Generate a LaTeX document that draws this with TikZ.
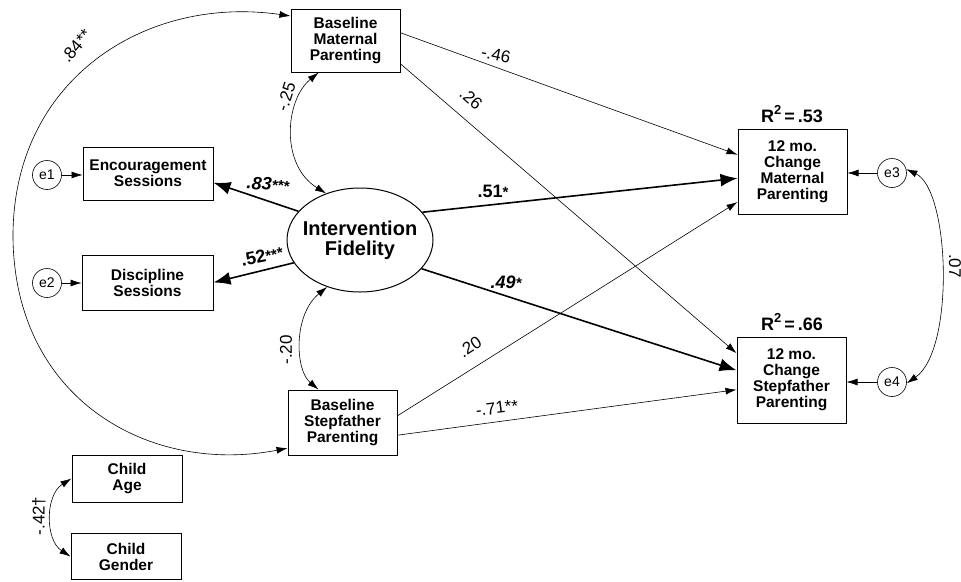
\documentclass[tikz,border=0pt]{standalone}
\usepackage{fontspec}
\setmainfont{Liberation Sans}
\usetikzlibrary{arrows.meta,shapes.geometric}
\begin{document}
\begin{tikzpicture}[x=1pt,y=-1pt,
 box/.style={draw,line width=1pt,font=\fontsize{15.5}{16}\selectfont\bfseries,align=center,inner sep=0pt},
 err/.style={draw,circle,line width=0.6pt,minimum size=29pt,inner sep=0pt,font=\fontsize{14}{14}\selectfont},
 thinar/.style={line width=0.6pt,-{Latex[length=11pt,width=7pt]}},
 thickar/.style={line width=1.6pt,-{Latex[length=17pt,width=13pt]}},
 dbl/.style={line width=0.6pt,{Latex[length=11pt,width=7pt]}-{Latex[length=11pt,width=7pt]}},
 lab/.style={font=\fontsize{17}{17}\selectfont,inner sep=0pt},
 blab/.style={font=\fontsize{18}{18}\selectfont\bfseries,inner sep=0pt},
 rsq/.style={font=\fontsize{18}{18}\selectfont\bfseries,inner sep=0pt},
]
\fill[white] (0,0) rectangle (961,581);
\useasboundingbox (0,0) rectangle (961,581);

% nodes
\node[box,minimum width=109pt,minimum height=63pt] (bmp) at (345.5,40.5) {Baseline\\Maternal\\Parenting};
\node[box,minimum width=130pt,minimum height=53pt] (enc) at (148,173.5) {Encouragement\\Sessions};
\node[box,minimum width=131pt,minimum height=55pt] (dis) at (147.5,282.5) {Discipline\\Sessions};
\node[box,minimum width=109pt,minimum height=65pt] (bsp) at (342.5,422.5) {Baseline\\Stepfather\\Parenting};
\node[box,minimum width=110pt,minimum height=47pt] (age) at (127,478.5) {Child\\Age};
\node[box,minimum width=110pt,minimum height=46pt] (gen) at (126,556.5) {Child\\Gender};
\node[box,minimum width=109pt,minimum height=85pt] (mcp) at (792.5,171.5) {12 mo.\\Change\\Maternal\\Parenting};
\node[box,minimum width=109pt,minimum height=86pt] (scp) at (791.5,380) {12 mo.\\Change\\Stepfather\\Parenting};
\node[draw,ellipse,line width=1pt,minimum width=146pt,minimum height=104pt,inner sep=0pt] (ifd) at (360,240) {};
\node[align=center,inner sep=0pt,font=\fontsize{20}{20}\selectfont\bfseries] (ifdt) at (ifd.center) {Intervention\\Fidelity};
\node[err] (e1) at (47,175) {e1};
\node[err] (e2) at (47,283) {e2};
\node[err] (e3) at (892,173) {e3};
\node[err] (e4) at (892,382) {e4};

\node[rsq] (r2a) at (792,114) {R\raisebox{0.42em}{\fontsize{13}{13}\selectfont 2}\,=\,.53};
\node[rsq] (r2b) at (792,322) {R\raisebox{0.42em}{\fontsize{13}{13}\selectfont 2}\,=\,.66};

% error arrows
\draw[thinar] (e1.east) -- (enc.west |- e1);
\draw[thinar] (e2.east) -- (dis.west |- e2);
\draw[thinar] (e3.west) -- (mcp.east |- e3);
\draw[thinar] (e4.west) -- (scp.east |- e4);

% loadings
\draw[thickar] (ifd.155) -- (enc.-8);
\draw[thickar] (ifd.199) -- (dis.east);
% structural paths
\draw[thickar] (ifd.24) -- (mcp.187);
\draw[thickar] (ifd.-25) -- (scp.170);
\draw[thinar] (bmp.8) -- (mcp.163);
\draw[thinar] (bmp.-23) -- (scp.154);
\draw[thinar] (bsp.7) -- (mcp.209);
\draw[thinar] (bsp.-13) -- (scp.190);

% covariances
\draw[dbl] (bsp.205) .. controls (150,475) and (15,400) .. (13,238)
           .. controls (12,80) and (145,-5) .. (bmp.156);
\draw[dbl] (bmp.230) .. controls (285,100) and (280,165) .. (ifd.126);
\draw[dbl] (ifd.235) .. controls (293,315) and (295,370) .. (bsp.126);
\draw[dbl] (e3.15) .. controls (950,190) and (955,350) .. (e4.-5);
\draw[dbl] (age.west) .. controls (45,495) and (45,540) .. (gen.west);

% labels
\node[lab,rotate=50] (l84) at (76,46) {.84**};
\node[lab,rotate=72] (l25) at (286,97) {-.25};
\node[lab,rotate=-42] (l26) at (471,99) {.26};
\node[lab,rotate=-12] (l46) at (496,55) {-.46};
\node[lab,rotate=90] (l20a) at (286,350) {-.20};
\node[lab,rotate=33] (l20b) at (470,347) {.20};
\node[lab,rotate=7] (l71) at (497,408) {-.71**};
\node[lab,rotate=90] (l42) at (39,516) {-.42†};
\node[lab,rotate=-90] (l07) at (955,266) {.07};

\node[blab,rotate=-4] (l83) at (268,184) {\itshape .83{\fontsize{15}{15}\selectfont ***}};
\node[blab,rotate=12] (l52) at (262,256) {.52{\fontsize{15}{15}\selectfont ***}};
\node[blab] (l51) at (493,191) {.51{\fontsize{15}{15}\selectfont *}};
\node[blab] (l49) at (506,282) {\itshape .49{\fontsize{15}{15}\selectfont *}};
\end{tikzpicture}
\end{document}
